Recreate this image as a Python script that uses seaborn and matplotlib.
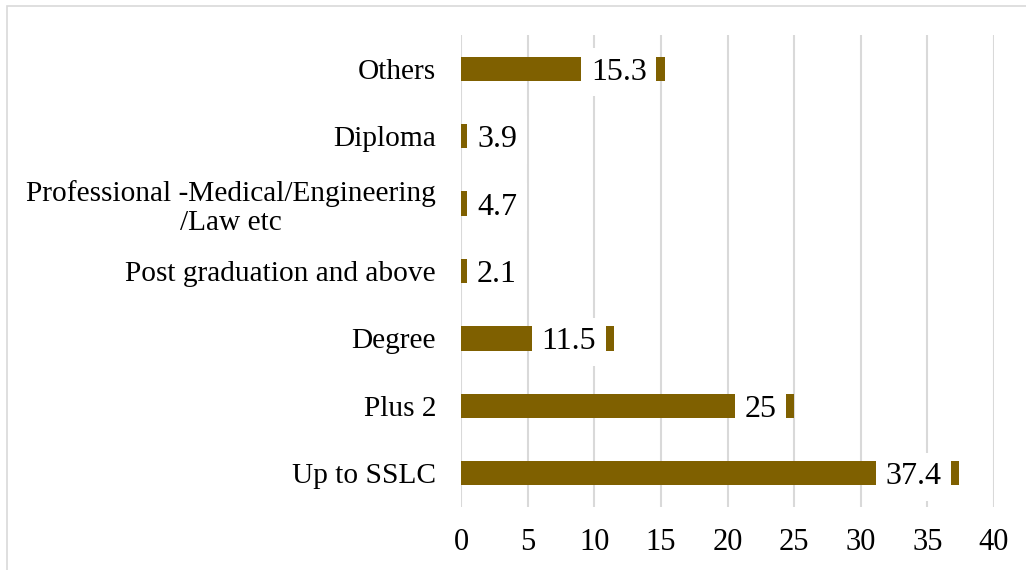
import matplotlib
matplotlib.use("Agg")
import matplotlib.pyplot as plt
import seaborn as sns
import pandas as pd
from matplotlib.patches import Rectangle

categories = [
    "Others",
    "Diploma",
    "Professional -Medical/Engineering\n/Law etc",
    "Post graduation and above",
    "Degree",
    "Plus 2",
    "Up to SSLC",
]
values = [15.3, 3.9, 4.7, 2.1, 11.5, 25, 37.4]
value_labels = ["15.3", "3.9", "4.7", "2.1", "11.5", "25", "37.4"]
x_ticks = [0, 5, 10, 15, 20, 25, 30, 35, 40]

plt.rcParams['font.family'] = ['Liberation Serif', 'DejaVu Serif']

df = pd.DataFrame({"cat": categories, "val": values})

fig = plt.figure(figsize=(10.26, 5.70), dpi=100)
ax = fig.add_axes([461 / 1026, 1 - 507 / 570, (994 - 461) / 1026, (507 - 35) / 570])

sns.barplot(data=df, x="val", y="cat", orient="h", color="#7F6000",
            saturation=1, width=0.36, ax=ax, zorder=3)

ax.set_xlim(0, 40)
ax.set_xticks(x_ticks)
ax.set_xticklabels([str(t) for t in x_ticks], fontsize=22)
ax.set_xlabel("")
ax.set_ylabel("")
ax.tick_params(axis='both', length=0)
ax.tick_params(axis='x', pad=15)
ax.tick_params(axis='y', pad=18)
for lbl in ax.get_yticklabels():
    lbl.set_fontsize(21.2)
    lbl.set_multialignment('center')
    lbl.set_linespacing(1.15)
for s in ax.spines.values():
    s.set_visible(False)
ax.grid(axis='x', color='#D9D9D9', linewidth=1.5, zorder=0)
ax.set_axisbelow(True)

px_per_unit = (994 - 461) / 40.0
fs = 23
em = fs * 100 / 72
for i, (v, lab) in enumerate(zip(values, value_labels)):
    text_w = (len(lab.replace('.', '')) * 0.5 + lab.count('.') * 0.25) * em
    right_px = v * px_per_unit - 18
    if right_px - text_w < 16:
        ax.annotate(lab, xy=(0, i), xytext=(16 * 0.72, 0), textcoords='offset points',
                    ha='left', va='center_baseline', fontsize=fs, color='black', zorder=5,
                    bbox=dict(boxstyle='square,pad=0.3', fc='white', ec='none'))
    else:
        ax.annotate(lab, xy=(v, i), xytext=(-18 * 0.72, 0), textcoords='offset points',
                    ha='right', va='center_baseline', fontsize=fs, color='black', zorder=5,
                    bbox=dict(boxstyle='square,pad=0.3', fc='white', ec='none'))

fig.patches.append(Rectangle((7 / 1026, -0.02), 1.1, 1 - 6 / 570 + 0.02,
                             transform=fig.transFigure, fill=False,
                             edgecolor='#D9D9D9', linewidth=1.2))

fig.savefig("out.png", dpi=100)
